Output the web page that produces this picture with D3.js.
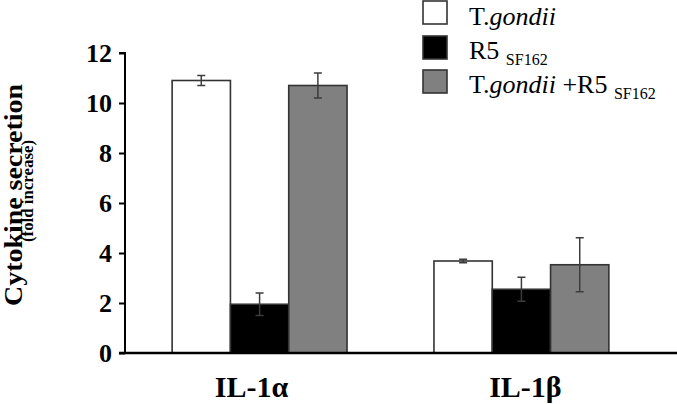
<!DOCTYPE html>
<html>
<head>
<meta charset="utf-8">
<script src="https://cdn.jsdelivr.net/npm/d3@7"></script>
<style>
  body { margin: 0; background: #fff; }
  svg { display: block; font-family: "Liberation Serif", "Times New Roman", serif; }
  text { font-family: "Liberation Serif", "Times New Roman", serif; }
</style>
</head>
<body>
<svg id="chart" width="677" height="404"></svg>
<script>
const categories = ['IL-1α', 'IL-1β'];
const seriesNames = ['tg', 'r5', 'both'];
const means = {
  tg: [10.9, 3.68],
  r5: [1.95, 2.55],
  both: [10.7, 3.53],
};
const errors = {
  tg: [0.2, 0.07],
  r5: [0.45, 0.48],
  both: [0.5, 1.08],
};
const yTicks = [0, 2, 4, 6, 8, 10, 12];

const fills = { tg: '#ffffff', r5: '#000000', both: '#808080' };
const labelShift = [-8, 4];

const svg = d3.select('#chart');
const axisX = 125;
const baseY = 353;

const y = d3.scaleLinear().domain([0, 12]).range([baseY, 53]);

const x0 = d3.scaleBand()
  .domain(categories)
  .range([125, 656])
  .paddingInner(0.332)
  .paddingOuter(0.18);
const x1 = d3.scaleBand().domain(seriesNames).range([0, x0.bandwidth()]);

const rows = [];
categories.forEach((c, i) => {
  seriesNames.forEach((s) => {
    rows.push({ cat: c, s, v: means[s][i], e: errors[s][i] });
  });
});

// bars
svg.append('g').selectAll('rect')
  .data(rows)
  .join('rect')
  .attr('x', (d) => x0(d.cat) + x1(d.s))
  .attr('y', (d) => y(d.v))
  .attr('width', x1.bandwidth())
  .attr('height', (d) => baseY - y(d.v))
  .attr('fill', (d) => fills[d.s])
  .attr('stroke', '#333')
  .attr('stroke-width', 1.6);

// error bars
const err = svg.append('g').attr('stroke', '#3c3c3c').attr('stroke-width', 1.5);
rows.forEach((d) => {
  const cx = x0(d.cat) + x1(d.s) + x1.bandwidth() / 2;
  const hi = y(d.v + d.e);
  const lo = y(d.v - d.e);
  err.append('line').attr('x1', cx).attr('x2', cx).attr('y1', hi).attr('y2', lo);
  err.append('line').attr('x1', cx - 4).attr('x2', cx + 4).attr('y1', hi).attr('y2', hi);
  err.append('line').attr('x1', cx - 4).attr('x2', cx + 4).attr('y1', lo).attr('y2', lo);
});

// y axis
const yAxis = svg.append('g')
  .attr('transform', `translate(${axisX},0)`)
  .call(d3.axisLeft(y).tickValues(yTicks).tickSize(6).tickPadding(7));
yAxis.select('.domain').attr('stroke', '#000').attr('stroke-width', 2).attr('d', `M-6,${y(12)}H0V${baseY}`);
yAxis.selectAll('.tick line').attr('stroke', '#000').attr('stroke-width', 2);
yAxis.selectAll('.tick text')
  .attr('fill', '#000')
  .attr('font-family', '"Liberation Serif", "Times New Roman", serif')
  .attr('font-size', 26)
  .attr('font-weight', 'bold');

// x axis line
svg.append('line')
  .attr('x1', axisX - 6).attr('x2', 677)
  .attr('y1', baseY).attr('y2', baseY)
  .attr('stroke', '#000').attr('stroke-width', 2.5);

// category labels
svg.append('g').selectAll('text')
  .data(categories)
  .join('text')
  .attr('x', (d, i) => x0(d) + x0.bandwidth() / 2 + labelShift[i])
  .attr('y', 397)
  .attr('text-anchor', 'middle')
  .attr('font-size', 30)
  .attr('font-weight', 'bold')
  .text((d) => d);

// y title
svg.append('text')
  .attr('transform', 'translate(22,195) rotate(-90)')
  .attr('text-anchor', 'middle')
  .attr('font-size', 26)
  .attr('font-weight', 'bold')
  .attr('textLength', 222)
  .attr('lengthAdjust', 'spacingAndGlyphs')
  .text('Cytokine secretion');
svg.append('text')
  .attr('transform', 'translate(33,191) rotate(-90)')
  .attr('text-anchor', 'middle')
  .attr('font-size', 16)
  .attr('font-weight', 'bold')
  .attr('textLength', 102)
  .attr('lengthAdjust', 'spacingAndGlyphs')
  .text('(fold increase)');

// legend
const legend = svg.append('g');
const legendY = [1, 36, 70];
seriesNames.forEach((s, i) => {
  legend.append('rect')
    .attr('x', 423).attr('y', legendY[i])
    .attr('width', 24).attr('height', 23)
    .attr('fill', fills[s])
    .attr('stroke', '#333').attr('stroke-width', 1.6);
});

function addLegendText(ty, parts) {
  const t = legend.append('text').attr('x', 469).attr('y', ty).attr('font-size', 26);
  parts.forEach((p) => {
    const ts = t.append('tspan').text(p.t);
    if (p.it) ts.attr('font-style', 'italic');
    if (p.sub) ts.attr('font-size', 16).attr('dy', 6);
  });
}
addLegendText(25, [{ t: 'T.' }, { t: 'gondii', it: true }]);
addLegendText(59, [{ t: 'R5 ' }, { t: 'SF162', sub: true }]);
addLegendText(93, [{ t: 'T.' }, { t: 'gondii', it: true }, { t: ' +R5 ' }, { t: 'SF162', sub: true }]);
</script>
</body>
</html>
